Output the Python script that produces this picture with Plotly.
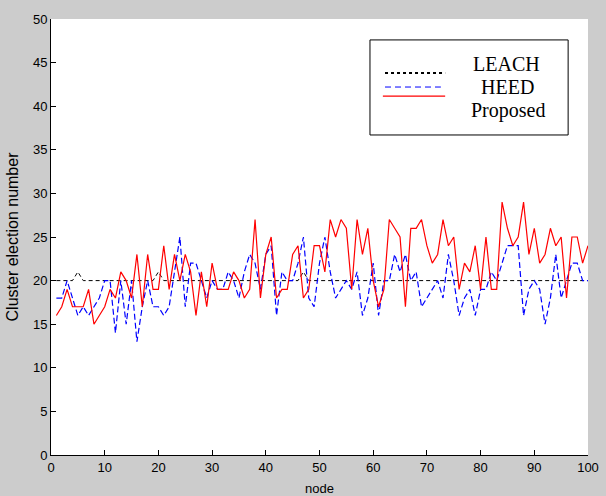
import plotly.graph_objects as go

nodes = list(range(1, 101))

leach = [20, 20, 20, 20, 21, 20, 20, 20, 20, 20,
         20, 20, 20, 20, 20, 20, 20, 20, 20, 21,
         20, 20, 20, 20, 20, 20, 20, 20, 20, 20,
         20, 20, 20, 20, 20, 20, 20, 20, 20, 20,
         20, 20, 20, 20, 20, 20, 21, 20, 20, 20,
         20, 20, 20, 20, 20, 20, 20, 20, 20, 20,
         20, 20, 20, 20, 20, 20, 20, 20, 20, 20,
         20, 20, 20, 20, 20, 20, 20, 20, 20, 20,
         20, 20, 20, 20, 20, 20, 20, 20, 20, 20,
         20, 20, 20, 20, 20, 20, 20, 20, 20, 20]

heed = [18, 18, 20, 18, 16, 17, 16, 17, 18, 20,
        20, 14, 20, 15, 20, 13, 17, 20, 17, 17,
        16, 17, 21, 25, 17, 22, 22, 20, 18, 20,
        19, 19, 21, 20, 18, 21, 23, 22, 19, 23,
        24, 16, 21, 20, 20, 22, 25, 18, 17, 22,
        25, 21, 18, 19, 20, 19, 21, 16, 18, 22,
        16, 20, 20, 23, 21, 23, 20, 21, 17, 18,
        19, 20, 18, 23, 20, 16, 18, 19, 16, 19,
        19, 21, 20, 22, 24, 24, 24, 16, 19, 20,
        19, 15, 18, 23, 18, 20, 22, 22, 20, 20]

proposed = [16, 17, 19, 17, 17, 17, 19, 15, 16, 17,
            19, 18, 21, 20, 18, 23, 17, 23, 19, 19,
            24, 19, 23, 20, 23, 21, 16, 21, 17, 22,
            19, 19, 19, 21, 20, 18, 19, 27, 18, 23,
            25, 18, 19, 19, 23, 24, 18, 19, 24, 24,
            21, 27, 25, 27, 26, 19, 27, 23, 26, 20,
            17, 19, 27, 26, 25, 17, 26, 26, 27, 24,
            22, 23, 27, 24, 25, 19, 22, 21, 24, 19,
            25, 19, 19, 29, 26, 24, 25, 29, 23, 26,
            22, 23, 26, 24, 25, 18, 25, 25, 22, 24]

x_ticks = list(range(0, 101, 10))
y_ticks = list(range(0, 51, 5))

fig = go.Figure()
fig.add_trace(go.Scatter(x=nodes, y=leach, mode="lines", name="LEACH",
                         line=dict(color="black", width=1, dash="4px,3px")))
fig.add_trace(go.Scatter(x=nodes, y=heed, mode="lines", name="HEED",
                         line=dict(color="#0000ff", width=1.2, dash="6px,3px")))
fig.add_trace(go.Scatter(x=nodes, y=proposed, mode="lines", name="Proposed",
                         line=dict(color="#ff0000", width=1.2)))

axis_font = dict(family="Liberation Sans, Arial, sans-serif", size=13, color="black")
title_font = dict(family="Liberation Sans, Arial, sans-serif", size=16, color="black")

fig.update_layout(
    width=606, height=496,
    paper_bgcolor="#cccccc", plot_bgcolor="white",
    margin=dict(l=51, r=18, t=19, b=41, autoexpand=False),
    showlegend=False,
    xaxis=dict(range=[0, 100], tickvals=x_ticks, showgrid=False, zeroline=False,
               showline=True, linecolor="black", linewidth=1, ticks="inside",
               ticklen=5, tickcolor="black", tickfont=axis_font,
               title=dict(text="node", font=axis_font, standoff=10)),
    yaxis=dict(range=[0, 50], tickvals=y_ticks, showgrid=False, zeroline=False,
               showline=True, linecolor="black", linewidth=1, ticks="inside",
               ticklen=5, tickcolor="black", tickfont=axis_font,
               title=dict(text="Cluster election number", font=title_font, standoff=10)),
)

# Legend box (MATLAB-style)
fig.add_shape(type="rect", xref="paper", yref="paper", x0=0.594, x1=0.963,
              y0=0.734, y1=0.952, line=dict(color="black", width=1), fillcolor="white")
fig.add_shape(type="line", xref="paper", yref="paper", x0=0.622, x1=0.734,
              y0=0.876, y1=0.876, line=dict(color="black", width=2, dash="dot"))
fig.add_shape(type="line", xref="paper", yref="paper", x0=0.622, x1=0.726,
              y0=0.844, y1=0.844, line=dict(color="#0000ff", width=1, dash="6px,4px"))
fig.add_shape(type="line", xref="paper", yref="paper", x0=0.618, x1=0.734,
              y0=0.823, y1=0.823, line=dict(color="#ff0000", width=1.2))

leg_font = dict(family="Liberation Serif, Times New Roman, serif", size=20, color="black")
for txt, xp, yp in [("LEACH", 0.782, 0.896), ("HEED", 0.797, 0.843), ("Proposed", 0.779, 0.790)]:
    fig.add_annotation(text=txt, xref="paper", yref="paper", x=xp, y=yp,
                       xanchor="left", yanchor="middle", showarrow=False, font=leg_font)

fig.write_html("out.html", config={"displayModeBar": False},
               post_script="document.body.style.margin='0';document.body.style.padding='0';")
